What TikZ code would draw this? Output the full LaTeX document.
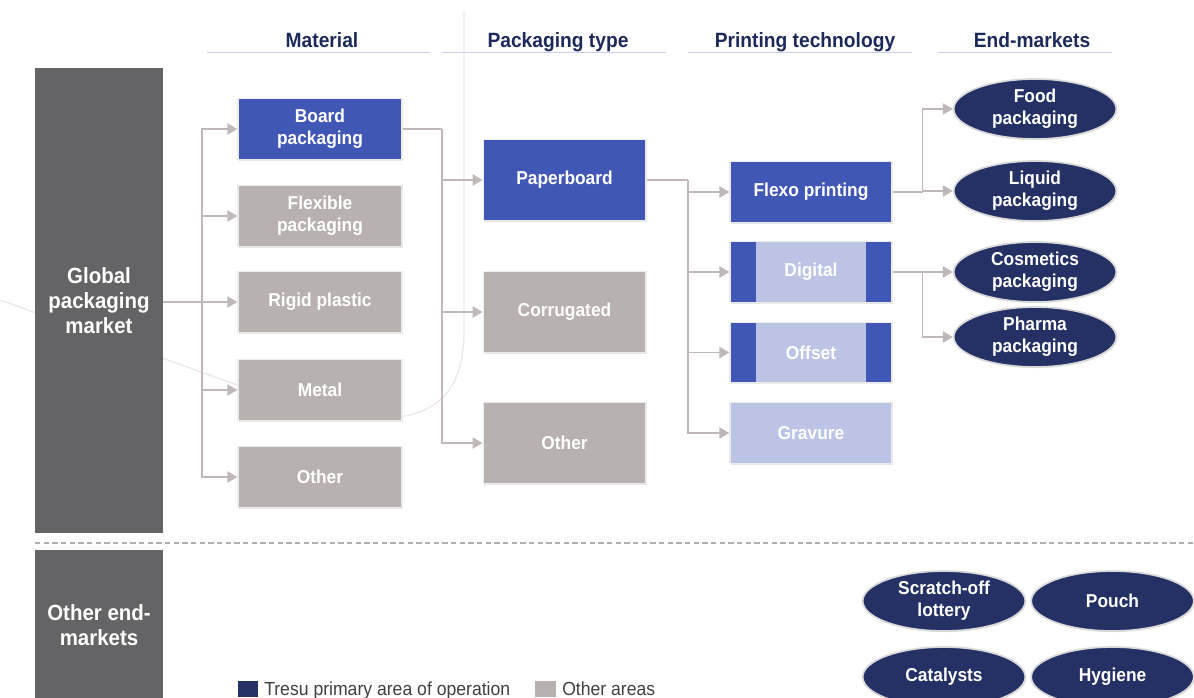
\documentclass[tikz,border=0pt]{standalone}
\usepackage{fontspec}
\setmainfont{Liberation Sans}[FakeStretch=0.93]
\usetikzlibrary{shapes.geometric,arrows.meta,shadows}
\definecolor{cblue}{RGB}{65,87,182}
\definecolor{cgray}{RGB}{185,177,175}
\definecolor{clight}{RGB}{188,196,230}
\definecolor{cnavy}{RGB}{37,48,101}
\definecolor{cdark}{RGB}{100,100,102}
\definecolor{chead}{RGB}{28,42,90}
\definecolor{cline}{RGB}{200,206,236}
\definecolor{cconn}{RGB}{192,184,184}
\definecolor{cfaint}{RGB}{233,233,236}
\definecolor{cdash}{RGB}{175,175,175}
\begin{document}
\begin{tikzpicture}[x=0.75pt,y=-0.75pt,
  boxbase/.style={rectangle, draw=black!8, line width=1pt, text=white,
    font=\fontsize{14}{16.3}\selectfont\bfseries, align=center, inner sep=0pt,
    drop shadow={opacity=0.2, shadow xshift=0.9pt, shadow yshift=-0.9pt}},
  matbox/.style={boxbase, minimum width=123pt, minimum height=45.5pt},
  typbox/.style={boxbase, minimum width=122pt, minimum height=60.5pt},
  prnbox/.style={boxbase, minimum width=121.5pt, minimum height=45.5pt},
  bluef/.style={fill=cblue},
  grayf/.style={fill=cgray},
  lightf/.style={fill=clight},
  bands/.style={fill=clight, path picture={
      \fill[cblue] (path picture bounding box.south west) rectangle ([xshift=19.5pt]path picture bounding box.north west);
      \fill[cblue] (path picture bounding box.south east) rectangle ([xshift=-19.5pt]path picture bounding box.north east);}},
  mkt/.style={ellipse, fill=cnavy, draw=black!15, line width=1.3pt, text=white,
    minimum width=122pt, minimum height=45pt, inner sep=0pt, align=center,
    font=\fontsize{14}{16.3}\selectfont\bfseries,
    drop shadow={opacity=0.15, shadow xshift=0.8pt, shadow yshift=-0.8pt}},
  panel/.style={rectangle, fill=cdark, text=white, minimum width=96pt, inner sep=0pt,
    align=center, font=\fontsize{16.5}{18.8}\selectfont\bfseries},
  head/.style={text=chead, font=\fontsize{15.5}{18}\selectfont\bfseries, inner sep=0pt},
  uline/.style={draw=cline, line width=1pt},
  conn/.style={draw=cconn, line width=1.1pt, -{Triangle[length=7.5pt,width=8.5pt]}},
  plain/.style={draw=cconn, line width=1.1pt},
  legtext/.style={font=\fontsize{14.2}{16}\selectfont, text=black!75, inner sep=0pt}
]
\useasboundingbox (0,0) rectangle (1194,697);
% faint background watermark
\draw[cfaint, line width=1pt] (464,11) -- (464,330) .. controls (464,400) and (430,424) .. (350,418);
\draw[cfaint, line width=1pt] (0,300) -- (240,386);

% headers
\node[head, anchor=base] (h1) at (322,47.5) {Material};
\node[head, anchor=base] (h2) at (558,47.5) {Packaging type};
\node[head, anchor=base] (h3) at (805,47.5) {Printing technology};
\node[head, anchor=base] (h4) at (1032,47.5) {End-markets};
\draw[uline] (207,52.5) -- (430,52.5);
\draw[uline] (442,52.5) -- (666,52.5);
\draw[uline] (688,52.5) -- (912,52.5);
\draw[uline] (938,52.5) -- (1112,52.5);

% left panels
\node[panel, minimum height=348.75pt] (glob) at (99,300.5) {Global\\packaging\\market};
\node[panel, minimum height=112pt] (oth) at (99,625) {Other end-\\markets};

% dashed separator
\draw[cdash, line width=0.8pt, dash pattern=on 4pt off 2.5pt] (35,543) -- (1194,543);

% material
\node[matbox, bluef] (board) at (320,129) {Board\\packaging};
\node[matbox, grayf] (flex) at (320,216) {Flexible\\packaging};
\node[matbox, grayf] (rig) at (320,302) {Rigid plastic};
\node[matbox, grayf] (metal) at (320,390) {Metal};
\node[matbox, grayf] (mother) at (320,477) {Other};

% packaging type
\node[typbox, bluef] (paper) at (564.5,180) {Paperboard};
\node[typbox, grayf] (corr) at (564.5,312) {Corrugated};
\node[typbox, grayf] (pother) at (564.5,443) {Other};

% printing
\node[prnbox, bluef] (flexo) at (811,192) {Flexo printing};
\node[prnbox, bands] (digi) at (811,272) {Digital};
\node[prnbox, bands] (offs) at (811,352.5) {Offset};
\node[prnbox, lightf] (grav) at (811,433) {Gravure};

% end markets
\node[mkt] (food) at (1035,109) {Food\\packaging};
\node[mkt] (liq) at (1035,191) {Liquid\\packaging};
\node[mkt] (cosm) at (1035,272) {Cosmetics\\packaging};
\node[mkt] (phar) at (1035,337) {Pharma\\packaging};

% other end markets
\node[mkt] (scr) at (944,601) {Scratch-off\\lottery};
\node[mkt] (pouch) at (1112.5,601) {Pouch};
\node[mkt] (cat) at (944,677) {Catalysts};
\node[mkt] (hyg) at (1112.5,677) {Hygiene};

% connectors: global -> material
\coordinate (mt) at (202,302);
\draw[conn] (glob.east |- rig.west) -- (rig.west);
\draw[conn] (mt) |- (board.west);
\draw[conn] (mt) |- (flex.west);
\draw[conn] (mt) |- (metal.west);
\draw[conn] (mt) |- (mother.west);

% board -> packaging type
\coordinate (pt) at (442,129);
\draw[plain] (board.east) -- (pt);
\draw[conn] (pt) |- (paper.west);
\draw[conn] (pt) |- (corr.west);
\draw[conn] (pt) |- (pother.west);

% paperboard -> printing
\coordinate (qt) at (688,180);
\draw[plain] (paper.east) -- (qt);
\draw[conn] (qt) |- (flexo.west);
\draw[conn] (qt) |- (digi.west);
\draw[conn] (qt) |- (offs.west);
\draw[conn] (qt) |- (grav.west);

% flexo -> food, liquid
\coordinate (ft) at (922.5,192);
\draw[plain] (flexo.east) -- (ft);
\draw[conn] (ft) |- (food.west);
\draw[conn] (ft) |- (liq.west);

% digital -> cosmetics, pharma
\coordinate (dt) at (922.5,272);
\draw[plain] (digi.east) -- (dt);
\draw[conn] (dt) |- (cosm.west);
\draw[conn] (dt) |- (phar.west);

% legend
\node[fill=cnavy, minimum width=15pt, minimum height=12pt, inner sep=0pt, anchor=north west] (lg1) at (238,680.5) {};
\node[legtext, anchor=base west] (lt1) at (264,695) {Tresu primary area of operation};
\node[fill=cgray, minimum width=15.5pt, minimum height=12pt, inner sep=0pt, anchor=north west] (lg2) at (535,680.5) {};
\node[legtext, anchor=base west] (lt2) at (562,695) {Other areas};
\end{tikzpicture}
\end{document}
